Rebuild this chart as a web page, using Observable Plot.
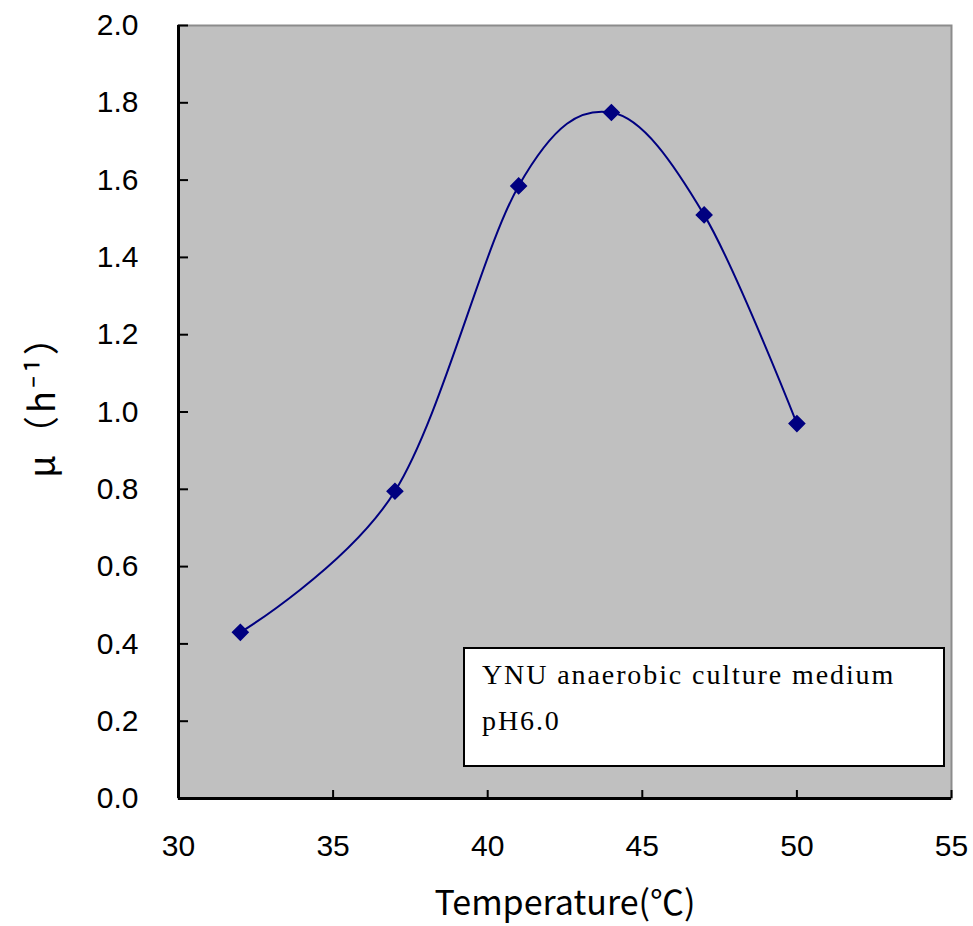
<!DOCTYPE html>
<html>
<head>
<meta charset="utf-8">
<script src="https://cdn.jsdelivr.net/npm/d3@7"></script>
<script src="https://cdn.jsdelivr.net/npm/@observablehq/plot@0.6"></script>
<style>
  html, body { margin: 0; padding: 0; background: white; }
  #wrap { position: relative; width: 973px; height: 926px; }
  #legend {
    position: absolute; left: 463px; top: 647px; width: 482px; height: 120px;
    box-sizing: border-box; border: 2px solid #000; background: #fff;
    font-family: "Liberation Serif", "DejaVu Serif", serif; font-size: 28px; color: #000;
    letter-spacing: 1.9px;
    padding: 3px 0 0 17px; line-height: 46px;
  }
</style>
</head>
<body>
<div id="wrap"></div>
<script>
// Data
const temperature = [32, 37, 41, 44, 47, 50];
const mu = [0.43, 0.795, 1.585, 1.775, 1.51, 0.97];
const xTicks = [30, 35, 40, 45, 50, 55];
const yTicks = [0, 0.2, 0.4, 0.6, 0.8, 1.0, 1.2, 1.4, 1.6, 1.8, 2.0];
const xLabel = "Temperature(℃)";
const yLabel = "μ（h⁻¹）";
const legendLines = ["YNU anaerobic culture medium", "pH6.0"];

const data = temperature.map((t, i) => ({t, mu: mu[i]}));

const W = 973, H = 926;
const mL = 178, mR = 22, mT = 25, mB = 128;
const plotW = W - mL - mR, plotH = H - mT - mB;

const chart = Plot.plot({
  width: W, height: H,
  marginLeft: mL, marginRight: mR, marginTop: mT, marginBottom: mB,
  style: {fontFamily: "'Liberation Sans', Arial, sans-serif", fontSize: "30px", background: "white", color: "black", overflow: "visible"},
  x: {domain: [30, 55]},
  y: {domain: [0, 2.0]},
  marks: [
    Plot.frame({fill: "#c0c0c0", stroke: "#8c8c8c", strokeWidth: 2}),
    Plot.ruleX([30], {stroke: "black", strokeWidth: 3}),
    Plot.ruleY([0], {stroke: "black", strokeWidth: 3}),
    Plot.tickX(xTicks, {x: d => d, insetTop: plotH - 8, stroke: "black", strokeWidth: 2}),
    Plot.tickY(yTicks, {y: d => d, insetRight: plotW - 10, stroke: "black", strokeWidth: 2}),
    Plot.axisX({ticks: xTicks, tickSize: 0, tickPadding: 36, tickFormat: d => String(d), label: null, fontSize: 30}),
    Plot.axisY({ticks: yTicks, tickSize: 0, tickPadding: 40, tickFormat: d => d.toFixed(1), label: null, fontSize: 30}),
    Plot.line(data, {x: "t", y: "mu", curve: "cardinal", stroke: "#000080", strokeWidth: 2}),
    Plot.dot(data, {x: "t", y: "mu", symbol: "diamond2", r: 7, fill: "#000080", stroke: "#000080"}),
    Plot.text([xLabel], {frameAnchor: "bottom", textAnchor: "middle", lineAnchor: "middle", dy: 106, fontSize: 34, fontFamily: "'Noto Sans CJK JP', sans-serif", fill: "black"}),
    Plot.text([yLabel], {frameAnchor: "left", textAnchor: "middle", lineAnchor: "middle", dx: -135, dy: -15, rotate: -90, fontSize: 36, fontFamily: "'Noto Sans CJK JP', sans-serif", fill: "black"})
  ]
});

chart.querySelectorAll("text").forEach(t => {
  if (t.textContent === yLabel) t.style.letterSpacing = "3px";
});

const wrap = document.getElementById("wrap");
wrap.appendChild(chart);
const legend = document.createElement("div");
legend.id = "legend";
legend.innerHTML = legendLines.map(s => `<div>${s}</div>`).join("");
wrap.appendChild(legend);
</script>
</body>
</html>
